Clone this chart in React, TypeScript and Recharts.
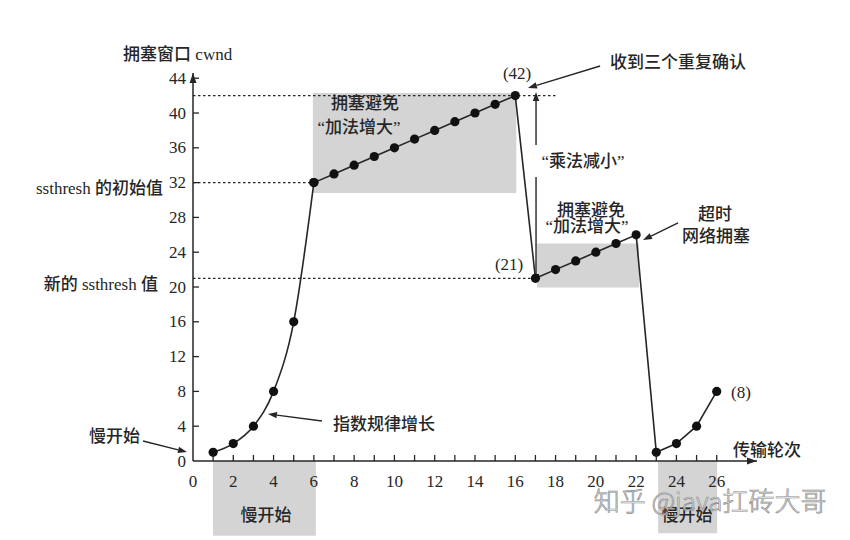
import React from "react";
import {
  LineChart,
  Line,
  XAxis,
  YAxis,
  ReferenceArea,
  ReferenceLine,
  ReferenceDot,
} from "recharts";

// transmission rounds and congestion window size
const rounds = [1, 2, 3, 4, 5, 6, 7, 8, 9, 10, 11, 12, 13, 14, 15, 16, 17, 18, 19, 20, 21, 22, 23, 24, 25, 26];
const cwnd = [1, 2, 4, 8, 16, 32, 33, 34, 35, 36, 37, 38, 39, 40, 41, 42, 21, 22, 23, 24, 25, 26, 1, 2, 4, 8];

const xTicks = [0, 1, 2, 3, 4, 5, 6, 7, 8, 9, 10, 11, 12, 13, 14, 15, 16, 17, 18, 19, 20, 21, 22, 23, 24, 25, 26];
const yTicks = [0, 4, 8, 12, 16, 20, 24, 28, 32, 36, 40, 44];

const INK = "#262626";
const SHADE = "#d4d4d4";
const SERIF = "'Liberation Serif', 'Noto Sans CJK SC', serif";

// slow start part is drawn smooth, the rest with straight segments
const data = rounds.map((r, i) => ({
  round: r,
  curve: r <= 6 ? cwnd[i] : null,
  straight: r >= 6 ? cwnd[i] : null,
}));

// text notes, in chart coordinates
const notes = [
  { x: -3.47, y: 46.67, text: "拥塞窗口 cwnd", anchor: "start" },
  { x: -1.49, y: 31.38, text: "ssthresh 的初始值", anchor: "end" },
  { x: -1.74, y: 20.34, text: "新的 ssthresh 值", anchor: "end" },
  { x: -2.63, y: 2.76, text: "慢开始", anchor: "end" },
  { x: 6.95, y: 4.25, text: "指数规律增长", anchor: "start" },
  { x: 8.54, y: 41.15, text: "拥塞避免", anchor: "middle" },
  { x: 8.24, y: 38.39, text: "“加法增大”", anchor: "middle" },
  { x: 16.09, y: 44.6, text: "(42)", anchor: "middle" },
  { x: 20.7, y: 45.75, text: "收到三个重复确认", anchor: "start" },
  { x: 19.36, y: 34.37, text: "“乘法减小”", anchor: "middle" },
  { x: 19.76, y: 28.85, text: "拥塞避免", anchor: "middle" },
  { x: 19.56, y: 26.9, text: "“加法增大”", anchor: "middle" },
  { x: 25.91, y: 28.28, text: "超时", anchor: "middle" },
  { x: 25.96, y: 25.75, text: "网络拥塞", anchor: "middle" },
  { x: 15.69, y: 22.53, text: "(21)", anchor: "middle" },
  { x: 27.2, y: 7.82, text: "(8)", anchor: "middle" },
  { x: 28.5, y: 1.26, text: "传输轮次", anchor: "middle" },
  { x: 3.62, y: -6.21, text: "慢开始", anchor: "middle" },
  { x: 24.52, y: -6.3, text: "慢开始", anchor: "middle" },
];

// pointer lines: [from, to, arrow head at the end]
const pointers = [
  { from: { x: -2.48, y: 2.3 }, to: { x: -0.3, y: 1.03 }, head: true },
  { from: { x: 6.4, y: 4.6 }, to: { x: 3.72, y: 5.4 }, head: true },
  { from: { x: 20.21, y: 45.4 }, to: { x: 16.63, y: 42.87 }, head: true },
  { from: { x: 17.03, y: 36.32 }, to: { x: 17.03, y: 42.41 }, head: true },
  { from: { x: 17.03, y: 32.64 }, to: { x: 17.03, y: 20.46 }, head: true },
  { from: { x: 24.08, y: 27.36 }, to: { x: 22.34, y: 25.4 }, head: true },
];

const dotted = [
  { y: 42, x2: 18.07 },
  { y: 32, x2: 6 },
  { y: 21, x2: 17 },
];

const shaded = [
  { x1: 5.95, x2: 16.05, y1: 30.8, y2: 42.3 },
  { x1: 17.08, x2: 22.14, y1: 19.95, y2: 25.0 },
  { x1: 0.99, x2: 6.1, y1: -8.6, y2: 0 },
  { x1: 23.09, x2: 26.02, y1: -8.3, y2: 0 },
];

function XTick({ x, y, payload }: any) {
  const v = payload.value;
  return (
    <g>
      {v !== 0 && <line x1={x} y1={y} x2={x} y2={y - 6} stroke={INK} strokeWidth={1.3} />}
      {v % 2 === 0 && (
        <text x={x} y={y + 20} textAnchor="middle" dominantBaseline="central"
          fontFamily={SERIF} fontSize={17} fill={INK}>
          {v}
        </text>
      )}
    </g>
  );
}

function YTick({ x, y, payload }: any) {
  const v = payload.value;
  return (
    <g>
      {v !== 0 && <line x1={x} y1={y} x2={x + 6} y2={y} stroke={INK} strokeWidth={1.3} />}
      <text x={x - 7} y={y} textAnchor="end" dominantBaseline="central"
        fontFamily={SERIF} fontSize={17} fill={INK}>
        {v}
      </text>
    </g>
  );
}

const noteShape = (text: string, anchor: string) => (p: any) => (
  <text x={p.cx} y={p.cy} textAnchor={anchor} dominantBaseline="central"
    fontFamily={SERIF} fontSize={17} fontWeight={500} fill={INK}>
    {text}
  </text>
);

const arrowShape = (head: boolean) => (p: any) => {
  const { x1, y1, x2, y2 } = p;
  const a = Math.atan2(y2 - y1, x2 - x1);
  const L = 9;
  const W = 3.2;
  const bx = x2 - L * Math.cos(a);
  const by = y2 - L * Math.sin(a);
  const px = -Math.sin(a) * W;
  const py = Math.cos(a) * W;
  return (
    <g>
      <line x1={x1} y1={y1} x2={bx} y2={by} stroke={INK} strokeWidth={1.4} />
      {head && (
        <polygon points={`${x2},${y2} ${bx + px},${by + py} ${bx - px},${by - py}`} fill={INK} />
      )}
    </g>
  );
};

const axisArrow = (dir: "right" | "up") => (p: any) => {
  const { cx, cy } = p;
  const pts =
    dir === "right"
      ? `${cx},${cy} ${cx - 10},${cy - 3.5} ${cx - 10},${cy + 3.5}`
      : `${cx},${cy} ${cx - 3.5},${cy + 10} ${cx + 3.5},${cy + 10}`;
  return <polygon points={pts} fill={INK} />;
};

const dotShape = (p: any) =>
  p.value == null ? null : <circle cx={p.cx} cy={p.cy} r={4.6} fill="#111" />;

export default function App() {
  return (
    <div style={{ position: "absolute", left: 0, top: 0, width: 850, height: 540, background: "#fff" }}>
      <LineChart
        width={850}
        height={540}
        data={data}
        margin={{ top: 73, right: 93, bottom: 49, left: 143 }}
      >
        {shaded.map((s, i) => (
          <ReferenceArea key={`a${i}`} x1={s.x1} x2={s.x2} y1={s.y1} y2={s.y2}
            fill={SHADE} fillOpacity={1} stroke="none" ifOverflow="visible" />
        ))}
        <XAxis
          dataKey="round"
          type="number"
          domain={[0, 28]}
          ticks={xTicks}
          interval={0}
          tickSize={0}
          tickMargin={0}
          tick={<XTick />}
          height={30}
          axisLine={{ stroke: INK, strokeWidth: 1.5 }}
          tickLine={false}
        />
        <YAxis
          type="number"
          domain={[0, 44.6]}
          ticks={yTicks}
          interval={0}
          tickSize={0}
          tickMargin={0}
          tick={<YTick />}
          width={50}
          axisLine={{ stroke: INK, strokeWidth: 1.5 }}
          tickLine={false}
        />
        {dotted.map((d, i) => (
          <ReferenceLine key={`d${i}`} segment={[{ x: 0, y: d.y }, { x: d.x2, y: d.y }]}
            stroke={INK} strokeWidth={1.3} strokeDasharray="2.5 2.5" ifOverflow="visible" />
        ))}
        <Line
          dataKey="curve"
          type="monotone"
          stroke={INK}
          strokeWidth={1.6}
          dot={dotShape}
          activeDot={false}
          connectNulls={false}
          isAnimationActive={false}
        />
        <Line
          dataKey="straight"
          type="linear"
          stroke={INK}
          strokeWidth={1.6}
          dot={dotShape}
          activeDot={false}
          connectNulls={false}
          isAnimationActive={false}
        />
        {pointers.map((p, i) => (
          <ReferenceLine key={`p${i}`} segment={[p.from, p.to]} ifOverflow="visible"
            shape={arrowShape(p.head)} />
        ))}
        <ReferenceDot x={28} y={0} r={0} ifOverflow="visible" shape={axisArrow("right")} />
        <ReferenceDot x={0} y={44.6} r={0} ifOverflow="visible" shape={axisArrow("up")} />
        {notes.map((n, i) => (
          <ReferenceDot key={`n${i}`} x={n.x} y={n.y} r={0} ifOverflow="visible"
            shape={noteShape(n.text, n.anchor)} />
        ))}
        <ReferenceDot x={25.67} y={-4.48} r={0} ifOverflow="visible"
          shape={(p: any) => (
            <text x={p.cx} y={p.cy} textAnchor="middle" dominantBaseline="central"
              fontFamily="'Noto Sans CJK SC', sans-serif" fontSize={26} fontWeight={300}
              fill="#f4f4f4" stroke="#8a8a8a" strokeWidth={0.7} fillOpacity={0.85}>
              知乎 @java扛砖大哥
            </text>
          )} />
      </LineChart>
    </div>
  );
}
